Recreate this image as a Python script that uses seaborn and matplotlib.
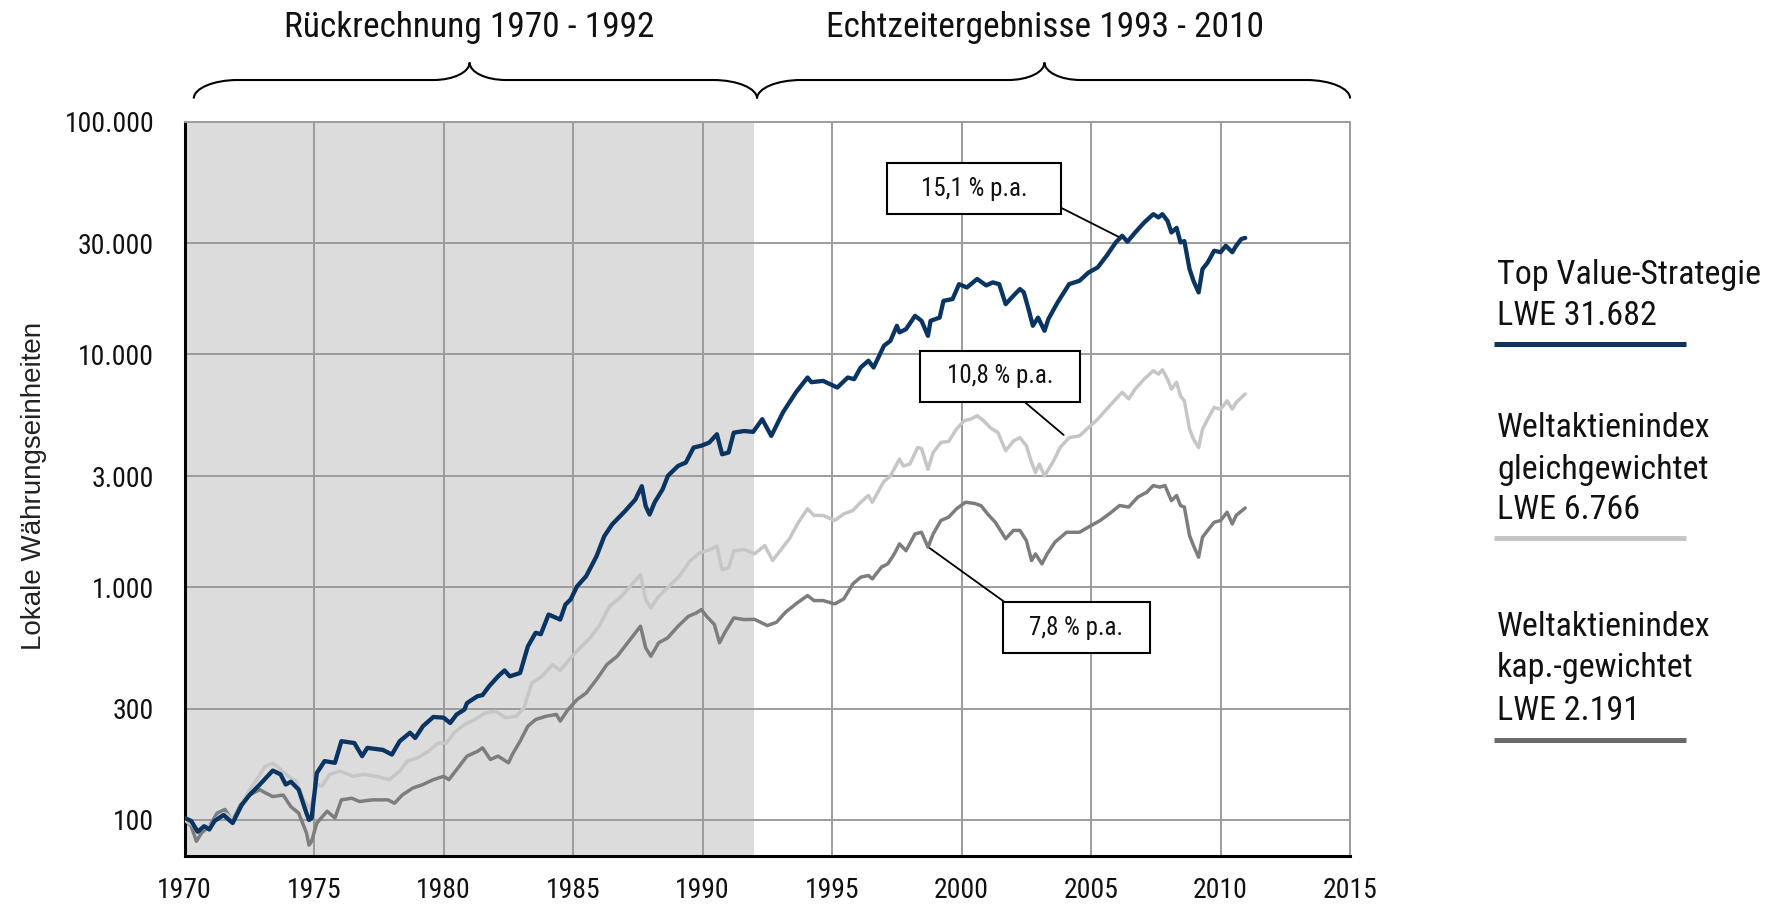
import matplotlib
matplotlib.use('Agg')
import matplotlib.pyplot as plt
import matplotlib.transforms as mtransforms
from matplotlib import font_manager
from matplotlib.path import Path
from matplotlib.patches import PathPatch
from matplotlib.lines import Line2D
from matplotlib.ticker import FixedLocator, NullLocator
import seaborn as sns

# Top Value-Strategie (LWE)
top_years = [
    1970.0, 1970.25, 1970.5, 1970.75, 1970.95, 1971.15, 1971.5, 1971.85, 1972.2, 1972.5,
    1972.9, 1973.4, 1973.7, 1973.9, 1974.1, 1974.4, 1974.7, 1974.8, 1974.9, 1975.1,
    1975.4, 1975.8, 1976.05, 1976.55, 1976.85, 1977.05, 1977.65, 1978.0, 1978.3, 1978.7,
    1978.9, 1979.2, 1979.6, 1980.0, 1980.25, 1980.5, 1980.8, 1980.9, 1981.3, 1981.5,
    1981.75, 1982.1, 1982.35, 1982.55, 1982.95, 1983.25, 1983.55, 1983.75, 1984.05, 1984.35,
    1984.5, 1984.7, 1984.9, 1985.15, 1985.5, 1985.9, 1986.2, 1986.5, 1987.0, 1987.4,
    1987.65, 1987.8, 1987.95, 1988.15, 1988.45, 1988.66, 1989.05, 1989.35, 1989.65, 1989.95,
    1990.25, 1990.55, 1990.75, 1991.0, 1991.2, 1991.6, 1991.95, 1992.3, 1992.65, 1993.1,
    1993.6, 1994.05, 1994.2, 1994.65, 1995.2, 1995.6, 1995.85, 1996.1, 1996.4, 1996.6,
    1997.0, 1997.25, 1997.5, 1997.6, 1997.85, 1998.2, 1998.45, 1998.7, 1998.8, 1999.15,
    1999.3, 1999.65, 1999.9, 2000.2, 2000.6, 2000.95, 2001.2, 2001.45, 2001.7, 2002.0,
    2002.25, 2002.4, 2002.6, 2002.75, 2002.95, 2003.2, 2003.35, 2003.7, 2004.15, 2004.55,
    2004.9, 2005.25, 2005.6, 2005.95, 2006.2, 2006.4, 2006.7, 2007.05, 2007.4, 2007.6,
    2007.75, 2007.95, 2008.1, 2008.3, 2008.45, 2008.6, 2008.8, 2008.95, 2009.15, 2009.3,
    2009.5, 2009.75, 2010.0, 2010.2, 2010.45, 2010.6, 2010.8, 2010.95]
top_values = [
    102, 99, 89, 94, 91, 99, 105, 97, 116, 128,
    142, 163, 157, 142, 146, 135, 107, 100, 102, 159,
    179, 176, 218, 214, 188, 204, 200, 191, 218, 237,
    225, 253, 277, 275, 261, 284, 298, 318, 340, 344,
    375, 414, 439, 414, 428, 557, 637, 628, 763, 738,
    726, 842, 885, 1009, 1115, 1358, 1656, 1859, 2122, 2381,
    2717, 2228, 2052, 2321, 2630, 3013, 3320, 3433, 3981, 4055,
    4180, 4541, 3726, 3791, 4613, 4688, 4650, 5270, 4467, 5640,
    6870, 7960, 7600, 7700, 7210, 7960, 7830, 8790, 9400, 8790,
    10900, 11450, 13280, 12440, 12840, 14650, 13950, 12020, 13950, 14400,
    17000, 17300, 20050, 19400, 21100, 19800, 20400, 20050, 16450, 17880,
    19100, 18500, 15400, 13280, 14400, 12640, 14200, 16700, 20050, 20730,
    22500, 23640, 26560, 30290, 32350, 30500, 33430, 36900, 40080, 38790,
    40080, 37500, 33430, 34990, 30290, 30700, 23280, 20730, 18470, 23280,
    24830, 27900, 27500, 29310, 27500, 29310, 31350, 31682]

# Weltaktienindex gleichgewichtet
eq_years = [
    1970.0, 1970.3, 1970.5, 1970.8, 1971.0, 1971.3, 1971.6, 1971.9, 1972.2, 1972.5,
    1972.8, 1973.1, 1973.4, 1973.7, 1974.0, 1974.3, 1974.6, 1974.85, 1975.1, 1975.3,
    1975.6, 1976.0, 1976.5, 1976.9, 1977.4, 1977.9, 1978.3, 1978.6, 1979.0, 1979.4,
    1979.8, 1980.1, 1980.4, 1980.8, 1981.2, 1981.6, 1982.0, 1982.4, 1982.8, 1983.1,
    1983.4, 1983.8, 1984.2, 1984.5, 1984.8, 1985.2, 1985.6, 1986.0, 1986.4, 1986.8,
    1987.2, 1987.6, 1987.8, 1988.0, 1988.3, 1988.7, 1989.1, 1989.5, 1989.9, 1990.3,
    1990.55, 1990.75, 1991.0, 1991.2, 1991.6, 1992.0, 1992.4, 1992.7, 1993.0, 1993.35,
    1993.7, 1994.05, 1994.3, 1994.65, 1995.1, 1995.45, 1995.8, 1996.1, 1996.4, 1996.55,
    1997.0, 1997.25, 1997.6, 1997.75, 1998.0, 1998.3, 1998.45, 1998.7, 1998.9, 1999.2,
    1999.5, 1999.8, 2000.1, 2000.35, 2000.6, 2000.85, 2001.1, 2001.4, 2001.7, 2002.0,
    2002.25, 2002.5, 2002.7, 2002.85, 2003.0, 2003.2, 2003.55, 2003.8, 2004.15, 2004.55,
    2004.9, 2005.25, 2005.6, 2005.95, 2006.2, 2006.45, 2006.7, 2007.05, 2007.4, 2007.6,
    2007.75, 2007.95, 2008.1, 2008.3, 2008.45, 2008.6, 2008.8, 2008.95, 2009.15, 2009.3,
    2009.5, 2009.75, 2010.0, 2010.25, 2010.45, 2010.6, 2010.95]
eq_values = [
    100, 95, 90, 93, 95, 103, 106, 100, 117, 135,
    150, 170, 175, 165, 154, 147, 122, 112, 142, 140,
    157, 162, 154, 157, 154, 149, 162, 179, 185, 197,
    214, 214, 237, 257, 270, 288, 293, 275, 279, 303,
    388, 414, 465, 439, 481, 540, 596, 680, 828, 899,
    1009, 1132, 885, 815, 914, 1009, 1115, 1293, 1406, 1453,
    1501, 1191, 1211, 1429, 1453, 1391, 1510, 1302, 1437, 1615,
    1901, 2172, 2034, 2034, 1935, 2066, 2136, 2318, 2477, 2318,
    2850, 3010, 3550, 3320, 3380, 3980, 3940, 3210, 3790, 4190,
    4230, 4780, 5190, 5280, 5450, 5190, 4850, 4620, 3860, 4250,
    4390, 4050, 3440, 3110, 3380, 3010, 3490, 3980, 4390, 4470,
    4850, 5270, 5820, 6430, 6870, 6450, 7100, 7840, 8510, 8230,
    8600, 7840, 7100, 7590, 6640, 6320, 4780, 4330, 3980, 4780,
    5270, 5920, 5820, 6320, 5820, 6220, 6766]

# Weltaktienindex kap.-gewichtet
cap_years = [
    1970.0, 1970.25, 1970.45, 1970.65, 1970.95, 1971.25, 1971.55, 1971.85, 1972.15, 1972.5,
    1972.9, 1973.1, 1973.4, 1973.8, 1974.1, 1974.4, 1974.7, 1974.8, 1974.9, 1975.1,
    1975.5, 1975.8, 1976.05, 1976.45, 1976.75, 1977.25, 1977.85, 1978.1, 1978.4, 1978.8,
    1979.2, 1979.6, 1980.0, 1980.2, 1980.6, 1980.9, 1981.3, 1981.5, 1981.8, 1982.1,
    1982.5, 1982.65, 1982.95, 1983.25, 1983.55, 1983.95, 1984.35, 1984.5, 1984.8, 1985.15,
    1985.5, 1985.9, 1986.3, 1986.7, 1987.2, 1987.6, 1987.8, 1988.0, 1988.3, 1988.65,
    1989.05, 1989.45, 1989.75, 1989.95, 1990.15, 1990.45, 1990.65, 1990.85, 1991.2, 1991.6,
    1992.0, 1992.5, 1992.85, 1993.2, 1993.6, 1994.05, 1994.3, 1994.65, 1995.1, 1995.45,
    1995.8, 1996.1, 1996.4, 1996.55, 1996.9, 1997.15, 1997.4, 1997.6, 1997.85, 1998.2,
    1998.45, 1998.7, 1998.9, 1999.2, 1999.5, 1999.8, 2000.15, 2000.5, 2000.75, 2001.0,
    2001.3, 2001.7, 2002.0, 2002.25, 2002.5, 2002.7, 2002.85, 2003.1, 2003.3, 2003.6,
    2004.05, 2004.55, 2005.0, 2005.35, 2005.7, 2006.1, 2006.45, 2006.8, 2007.15, 2007.4,
    2007.65, 2007.85, 2008.1, 2008.3, 2008.45, 2008.6, 2008.8, 2008.95, 2009.15, 2009.3,
    2009.5, 2009.75, 2010.0, 2010.25, 2010.45, 2010.6, 2010.95]
cap_values = [
    100, 94, 81, 88, 94, 107, 111, 99, 116, 128,
    135, 131, 126, 128, 114, 107, 88, 78, 81, 97,
    109, 102, 122, 124, 120, 122, 122, 118, 128, 137,
    142, 149, 154, 149, 170, 188, 197, 204, 182, 188,
    176, 191, 218, 253, 270, 279, 284, 266, 298, 329,
    351, 401, 465, 505, 596, 680, 549, 505, 577, 606,
    680, 750, 775, 801, 750, 692, 577, 637, 738, 726,
    728, 684, 707, 781, 848, 921, 876, 876, 848, 891,
    1034, 1104, 1123, 1086, 1219, 1260, 1390, 1535, 1435, 1694,
    1722, 1486, 1694, 1935, 2000, 2172, 2318, 2290, 2240, 2066,
    1901, 1615, 1754, 1754, 1585, 1302, 1390, 1260, 1390, 1560,
    1722, 1722, 1841, 1935, 2066, 2244, 2210, 2438, 2560, 2735,
    2690, 2735, 2355, 2477, 2244, 2210, 1667, 1510, 1345, 1640,
    1754, 1901, 1935, 2100, 1870, 2034, 2191]

y_ticks = [100, 300, 1000, 3000, 10000, 30000, 100000]
x_ticks = [1970, 1975, 1980, 1985, 1990, 1995, 2000, 2005, 2010, 2015]

legend_labels = [
    ['Top Value-Strategie', 'LWE 31.682'],
    ['Weltaktienindex', 'gleichgewichtet', 'LWE 6.766'],
    ['Weltaktienindex', 'kap.-gewichtet', 'LWE 2.191'],
]

BLUE = '#0a3563'
LIGHT = '#c6c6c6'
DARK = '#7d7d7d'
GRID = '#9c9c9c'


def first_font(candidates):
    for name in candidates:
        try:
            font_manager.findfont(font_manager.FontProperties(family=name),
                                  fallback_to_default=False)
            return name
        except ValueError:
            continue
    return 'Liberation Sans'


NARROW = first_font(['Roboto Condensed', 'Archivo Narrow', 'PT Sans Narrow',
                     'Fira Sans Condensed', 'IBM Plex Sans Condensed',
                     'Liberation Sans Narrow'])

sns.set_theme(style='white')
plt.rcParams['font.family'] = [NARROW, 'DejaVu Sans']

fig = plt.figure(figsize=(17.66, 9.09), dpi=100)
ax = fig.add_axes([0.1046, 0.0583, 0.6599, 0.8078])

# back-calculated period
ax.axvspan(1970, 1992, color='#dcdcdc', lw=0, zorder=0)

sns.lineplot(x=cap_years, y=cap_values, ax=ax, color=DARK, lw=2.5,
             estimator=None, sort=False, zorder=3)
sns.lineplot(x=eq_years, y=eq_values, ax=ax, color=LIGHT, lw=2.5,
             estimator=None, sort=False, zorder=3)
sns.lineplot(x=top_years, y=top_values, ax=ax, color=BLUE, lw=3.1,
             estimator=None, sort=False, zorder=4)

ax.set_yscale('log')
ax.set_ylim(70, 100000)
ax.set_xlim(1970, 2015)
ax.yaxis.set_major_locator(FixedLocator(y_ticks))
ax.yaxis.set_minor_locator(NullLocator())
ax.set_yticklabels([f'{v:,.0f}'.replace(',', '.') for v in y_ticks])
ax.set_xticks(x_ticks)
ax.set_xticklabels([str(v) for v in x_ticks])
ax.set_axisbelow(True)
ax.grid(True, which='major', color=GRID, lw=1.4)
ax.tick_params(axis='both', length=0, labelsize=20, colors='#111111')
ax.tick_params(axis='y', pad=22)
ax.tick_params(axis='x', pad=15)
ax.set_xlabel('')
ax.set_ylabel('')

for side in ['left', 'bottom']:
    ax.spines[side].set_color('black')
    ax.spines[side].set_linewidth(2.2)
for side in ['top', 'right']:
    ax.spines[side].set_color(GRID)
    ax.spines[side].set_linewidth(1.4)

fig.text(34 / 1766, 1 - 486 / 909, 'Lokale Währungseinheiten', rotation=90,
         ha='center', va='center', fontsize=20, color='#222222',
         family=['Liberation Sans', 'DejaVu Sans'])


# curly braces above the plot
def brace(x0, x1, xm, y_end=1.0316, y_flat=1.0568, y_tip=1.0806, r=1.7, r2=1.4):
    k = 0.552
    verts = [
        (x0, y_end),
        (x0, y_end + k * (y_flat - y_end)), (x0 + (1 - k) * r, y_flat), (x0 + r, y_flat),
        (xm - r2, y_flat),
        (xm - r2 + k * r2, y_flat), (xm, y_tip - k * (y_tip - y_flat)), (xm, y_tip),
        (xm, y_tip - k * (y_tip - y_flat)), (xm + r2 - k * r2, y_flat), (xm + r2, y_flat),
        (x1 - r, y_flat),
        (x1 - (1 - k) * r, y_flat), (x1, y_end + k * (y_flat - y_end)), (x1, y_end),
    ]
    codes = ([Path.MOVETO] + [Path.CURVE4] * 3 + [Path.LINETO] + [Path.CURVE4] * 6
             + [Path.LINETO] + [Path.CURVE4] * 3)
    trans = mtransforms.blended_transform_factory(ax.transData, ax.transAxes)
    patch = PathPatch(Path(verts, codes), fc='none', ec='black', lw=1.5,
                      transform=trans, clip_on=False)
    ax.add_patch(patch)


brace(1970.35, 1992.1, 1981.0)
brace(1992.1, 2015.0, 2003.2)

title_trans = mtransforms.blended_transform_factory(ax.transData, fig.transFigure)
fig.text(1981.0, 1 - 37 / 909, 'Rückrechnung 1970 - 1992', transform=title_trans,
         ha='center', va='baseline', fontsize=25.5, color='#111111')
fig.text(2003.2, 1 - 37 / 909, 'Echtzeitergebnisse 1993 - 2010', transform=title_trans,
         ha='center', va='baseline', fontsize=25.5, color='#111111')

# return labels
notes = [
    ('15,1 % p.a.', (2006.05, 32060), (2000.47, 51550), (1, 0.42), 1.34),
    ('10,8 % p.a.', (2003.94, 4510), (2001.48, 8070), (0.577, 0), 1.08),
    ('7,8 % p.a.', (1998.77, 1471), (2004.43, 671), (0, 0.82), 1.06),
]
for label, xy, xytext, rel, pad in notes:
    ax.annotate(label, xy=xy, xytext=xytext, textcoords='data',
                ha='center', va='center', fontsize=18, color='#111111', zorder=6,
                bbox=dict(boxstyle=f'square,pad={pad}', mutation_aspect=0.54 / pad,
                          fc='white', ec='black', lw=1.5),
                arrowprops=dict(arrowstyle='-', color='black', lw=1.3, relpos=rel,
                                shrinkA=0, shrinkB=0))

# legend on the right
legend_baselines = [[284, 325], [437, 479, 519], [636, 677, 720]]
legend_bars = [344, 538, 740]
legend_colors = [BLUE, LIGHT, '#6a6a6a']
for lines, bases, bar_y, col in zip(legend_labels, legend_baselines, legend_bars, legend_colors):
    for txt, yb in zip(lines, bases):
        fig.text(1497 / 1766, 1 - yb / 909, txt, ha='left', va='baseline',
                 fontsize=24.5, color='#111111')
    fig.add_artist(Line2D([1494 / 1766, 1686 / 1766], [1 - bar_y / 909] * 2,
                          transform=fig.transFigure, color=col, lw=3.6,
                          solid_capstyle='butt'))

fig.savefig('out.png', dpi=100)
